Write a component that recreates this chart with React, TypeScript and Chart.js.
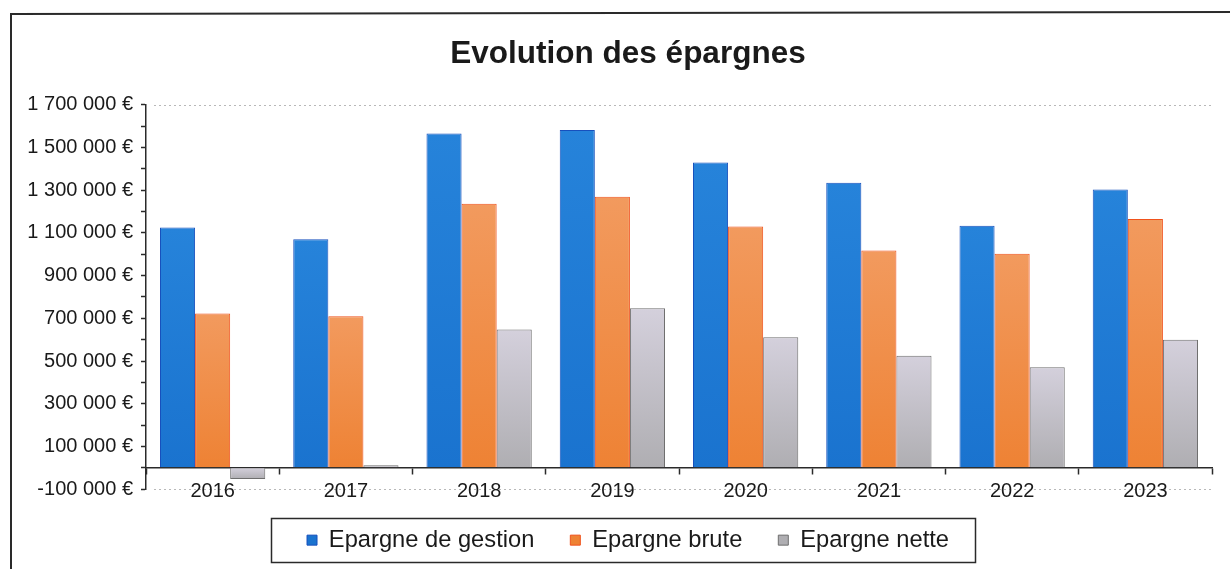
import React, { useEffect, useRef } from 'react';
import { Chart, registerables } from 'chart.js';

Chart.register(...registerables);

const categories = ['2016', '2017', '2018', '2019', '2020', '2021', '2022', '2023'];
const seriesLabels = ['Epargne de gestion', 'Epargne brute', 'Epargne nette'];
const epargneGestion = [1125000, 1070000, 1566000, 1582000, 1430000, 1335000, 1134000, 1303000];
const epargneBrute = [722000, 710000, 1236000, 1269000, 1130000, 1018000, 1002000, 1165000];
const epargneNette = [-53000, 12000, 647000, 747000, 611000, 525000, 471000, 600000];
const yMin = -100000;
const yMax = 1700000;
const yStep = 100000;
const titleText = 'Evolution des épargnes';

const FONT = "'Liberation Sans', Arial, sans-serif";

function fmtEuro(v: number): string {
  const s = String(Math.abs(v)).replace(/\B(?=(\d{3})+(?!\d))/g, ' ');
  return (v < 0 ? '-' : '') + s + ' €';
}

// vertical gradient per bar (top colour -> bottom colour), solid for the legend
function barFill(solid: string, top: string, bottom: string) {
  return (c: any) => {
    if (c.type !== 'data' || c.raw == null) return solid;
    const chart = c.chart;
    const ys = chart.scales && chart.scales.y;
    if (!ys) return solid;
    const v = Number(c.raw);
    const p1 = ys.getPixelForValue(Math.max(v, 0));
    const p2 = ys.getPixelForValue(Math.min(v, 0));
    if (!isFinite(p1) || !isFinite(p2) || Math.abs(p2 - p1) < 1) return solid;
    const g = chart.ctx.createLinearGradient(0, p1, 0, p2);
    g.addColorStop(0, top);
    g.addColorStop(1, bottom);
    return g;
  };
}

const framePlugin = {
  id: 'frame',
  afterLayout(chart: any) {
    // let the y tick labels extend into the left padding without clipping
    if (chart.scales && chart.scales.y) chart.scales.y.left = 0;
  },
  beforeDraw(chart: any) {
    const { ctx, width, height, chartArea, scales } = chart;
    ctx.save();
    ctx.fillStyle = '#ffffff';
    ctx.fillRect(0, 0, width, height);
    // outer frame
    ctx.strokeStyle = '#2a2a2a';
    ctx.lineWidth = 2;
    ctx.beginPath();
    ctx.moveTo(11, height + 5);
    ctx.lineTo(11, 14);
    ctx.lineTo(width + 5, 12);
    ctx.stroke();
    // dotted lines at top and bottom of plot
    const y = scales.y;
    ctx.strokeStyle = '#b8b8b8';
    ctx.lineWidth = 1;
    ctx.setLineDash([2, 3]);
    [yMax, yMin].forEach((v) => {
      const py = Math.round(y.getPixelForValue(v)) + 0.5;
      ctx.beginPath();
      ctx.moveTo(chartArea.left + 8, py);
      ctx.lineTo(chartArea.right, py);
      ctx.stroke();
    });
    ctx.restore();
  },
  afterDraw(chart: any) {
    const lg: any = chart.legend;
    const hb = lg && lg.legendHitBoxes;
    if (!hb || !hb.length) return;
    const { ctx } = chart;
    const first = hb[0];
    const last = hb[hb.length - 1];
    const x1 = first.left - 36;
    const x2 = last.left + last.width + 26;
    const yc = first.top + first.height / 2;
    ctx.save();
    ctx.strokeStyle = '#2a2a2a';
    ctx.lineWidth = 1.5;
    ctx.strokeRect(Math.round(x1) + 0.5, Math.round(yc - 22) + 0.5, Math.round(x2 - x1), 44);
    ctx.restore();
  },
};

export default function App() {
  const ref = useRef<HTMLCanvasElement | null>(null);

  useEffect(() => {
    document.body.style.margin = '0';
    const canvas = ref.current;
    if (!canvas) return;
    const chart = new Chart(canvas, {
      type: 'bar',
      data: {
        labels: categories,
        datasets: [
          {
            label: seriesLabels[0],
            data: epargneGestion,
            backgroundColor: barFill('#1c78d4', '#2683da', '#1a73cf'),
            borderColor: '#1750bd',
            borderWidth: 1,
          },
          {
            label: seriesLabels[1],
            data: epargneBrute,
            backgroundColor: barFill('#ef8a42', '#f29a5e', '#ee8234'),
            borderColor: '#f0521c',
            borderWidth: 1,
          },
          {
            label: seriesLabels[2],
            data: epargneNette,
            backgroundColor: barFill('#c7c4ce', '#d4d0dc', '#afaeb2'),
            borderColor: '#6e6e6e',
            borderWidth: 1,
          },
        ],
      },
      options: {
        responsive: false,
        animation: false,
        layout: { padding: { left: 44, right: 18, top: 0, bottom: 7 } },
        datasets: {
          bar: { categoryPercentage: 0.79, barPercentage: 1.0 },
        },
        plugins: {
          title: {
            display: true,
            text: titleText,
            color: '#1a1a1a',
            font: { family: FONT, size: 31.5, weight: 'bold' },
            padding: { top: 35, bottom: 32 },
          },
          legend: {
            display: true,
            position: 'bottom',
            title: {
              display: true,
              text: ' ',
              font: { family: FONT, size: 1 },
              padding: 1,
            },
            labels: {
              color: '#1a1a1a',
              font: { family: FONT, size: 23.7 },
              boxWidth: 10,
              boxHeight: 10,
              padding: 36,
            },
          },
          tooltip: { enabled: false },
        },
        scales: {
          x: {
            position: { y: 0 } as any,
            grid: {
              display: true,
              drawOnChartArea: false,
              drawTicks: true,
              tickLength: 6,
              tickColor: '#2a2a2a',
              tickWidth: 1.5,
              offset: true,
            },
            border: { display: true, color: '#2a2a2a', width: 1.5 },
            ticks: {
              color: '#1a1a1a',
              font: { family: FONT, size: 20 },
              padding: 6,
              maxRotation: 0,
              autoSkip: false,
            },
          },
          y: {
            min: yMin,
            max: yMax,
            afterFit(scale: any) {
              scale.width = 102;
            },
            grid: {
              display: true,
              drawOnChartArea: false,
              drawTicks: true,
              tickLength: 5,
              tickColor: '#2a2a2a',
              tickWidth: 1.5,
            },
            border: { display: true, color: '#2a2a2a', width: 1.5 },
            ticks: {
              stepSize: yStep,
              autoSkip: false,
              color: '#1a1a1a',
              font: { family: FONT, size: 20 },
              padding: 8,
              callback: (v: any) => {
                const n = Number(v);
                return Math.abs(n % 200000) === 100000 ? fmtEuro(n) : '';
              },
            },
          },
        },
      },
      plugins: [framePlugin],
    });
    return () => chart.destroy();
  }, []);

  return (
    <div style={{ position: 'fixed', left: 0, top: 0, width: 1230, height: 569, background: '#fff' }}>
      <canvas ref={ref} width={1230} height={569} style={{ display: 'block', width: 1230, height: 569 }} />
    </div>
  );
}
